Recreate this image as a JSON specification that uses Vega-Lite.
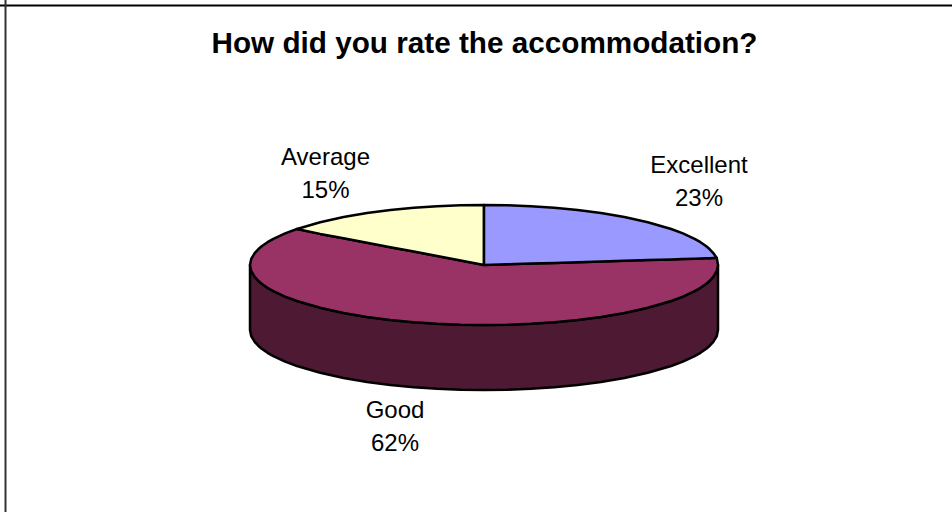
{"$schema":"https://vega.github.io/schema/vega-lite/v6.json","width":952,"height":512,"autosize":"none","padding":0,"background":"white","view":{"stroke":null},
"title":{"text":"How did you rate the accommodation?","anchor":"middle","orient":"top","offset":-84,"dx":8.5,"font":"Liberation Sans","fontWeight":"bold","fontSize":29.7,"color":"#000000","baseline":"alphabetic"},
"datasets":{
"shape":[
{"part":"Side","x":250,"y":265,"y2":330},{"part":"Side","x":251.2,"y":271,"y2":336},{"part":"Side","x":254.7,"y":276.9,"y2":341.9},{"part":"Side","x":258.2,"y":280.7,"y2":345.7},{"part":"Side","x":261.7,"y":283.7,"y2":348.7},{"part":"Side","x":267.5,"y":287.8,"y2":352.8},{"part":"Side","x":273.4,"y":291.2,"y2":356.2},{"part":"Side","x":285.1,"y":296.6,"y2":361.6},{"part":"Side","x":297,"y":301,"y2":366},{"part":"Side","x":320.2,"y":307.8,"y2":372.8},{"part":"Side","x":343.6,"y":313,"y2":378},{"part":"Side","x":367,"y":317,"y2":382},{"part":"Side","x":390.4,"y":320,"y2":385},{"part":"Side","x":413.8,"y":322.2,"y2":387.2},{"part":"Side","x":437.2,"y":323.8,"y2":388.8},{"part":"Side","x":460.6,"y":324.7,"y2":389.7},{"part":"Side","x":484,"y":325,"y2":390},{"part":"Side","x":507.4,"y":324.7,"y2":389.7},{"part":"Side","x":530.8,"y":323.8,"y2":388.8},{"part":"Side","x":554.2,"y":322.2,"y2":387.2},{"part":"Side","x":577.6,"y":320,"y2":385},{"part":"Side","x":601,"y":317,"y2":382},{"part":"Side","x":624.4,"y":313,"y2":378},{"part":"Side","x":647.8,"y":307.8,"y2":372.8},{"part":"Side","x":671.2,"y":301,"y2":366},{"part":"Side","x":682.9,"y":296.6,"y2":361.6},{"part":"Side","x":694.6,"y":291.2,"y2":356.2},{"part":"Side","x":700.5,"y":287.8,"y2":352.8},{"part":"Side","x":706.3,"y":283.7,"y2":348.7},{"part":"Side","x":709.8,"y":280.7,"y2":345.7},{"part":"Side","x":713.3,"y":276.9,"y2":341.9},{"part":"Side","x":716.8,"y":271,"y2":336},{"part":"Side","x":718,"y":265,"y2":330},
{"part":"Good","x":250,"y":265,"y2":265},{"part":"Good","x":251.2,"y":259,"y2":271},{"part":"Good","x":254.7,"y":253.1,"y2":276.9},{"part":"Good","x":258.2,"y":249.3,"y2":280.7},{"part":"Good","x":261.7,"y":246.3,"y2":283.7},{"part":"Good","x":267.5,"y":242.2,"y2":287.8},{"part":"Good","x":273.4,"y":238.8,"y2":291.2},{"part":"Good","x":285.1,"y":233.4,"y2":296.6},{"part":"Good","x":297,"y":229,"y2":301},{"part":"Good","x":320.2,"y":233.9,"y2":307.8},{"part":"Good","x":343.6,"y":238.3,"y2":313},{"part":"Good","x":367,"y":242.8,"y2":317},{"part":"Good","x":390.4,"y":247.2,"y2":320},{"part":"Good","x":413.8,"y":251.6,"y2":322.2},{"part":"Good","x":437.2,"y":256.1,"y2":323.8},{"part":"Good","x":460.6,"y":260.5,"y2":324.7},{"part":"Good","x":484,"y":265,"y2":325},{"part":"Good","x":507.4,"y":264.3,"y2":324.7},{"part":"Good","x":530.8,"y":263.6,"y2":323.8},{"part":"Good","x":554.2,"y":262.9,"y2":322.2},{"part":"Good","x":577.6,"y":262.2,"y2":320},{"part":"Good","x":601,"y":261.5,"y2":317},{"part":"Good","x":624.4,"y":260.8,"y2":313},{"part":"Good","x":647.8,"y":260.1,"y2":307.8},{"part":"Good","x":671.2,"y":259.4,"y2":301},{"part":"Good","x":682.9,"y":259,"y2":296.6},{"part":"Good","x":694.6,"y":258.7,"y2":291.2},{"part":"Good","x":700.5,"y":258.5,"y2":287.8},{"part":"Good","x":706.3,"y":258.3,"y2":283.7},{"part":"Good","x":709.8,"y":258.2,"y2":280.7},{"part":"Good","x":713.3,"y":258.1,"y2":276.9},{"part":"Good","x":716.8,"y":258,"y2":271},{"part":"Good","x":718,"y":265,"y2":265},
{"part":"Average","x":297,"y":229,"y2":229},{"part":"Average","x":320.2,"y":222.2,"y2":233.9},{"part":"Average","x":343.6,"y":217,"y2":238.3},{"part":"Average","x":367,"y":213,"y2":242.8},{"part":"Average","x":390.4,"y":210,"y2":247.2},{"part":"Average","x":413.8,"y":207.8,"y2":251.6},{"part":"Average","x":437.2,"y":206.2,"y2":256.1},{"part":"Average","x":460.6,"y":205.3,"y2":260.5},{"part":"Average","x":484,"y":205,"y2":265},
{"part":"Excellent","x":484,"y":205,"y2":265},{"part":"Excellent","x":507.4,"y":205.3,"y2":264.3},{"part":"Excellent","x":530.8,"y":206.2,"y2":263.6},{"part":"Excellent","x":554.2,"y":207.8,"y2":262.9},{"part":"Excellent","x":577.6,"y":210,"y2":262.2},{"part":"Excellent","x":601,"y":213,"y2":261.5},{"part":"Excellent","x":624.4,"y":217,"y2":260.8},{"part":"Excellent","x":647.8,"y":222.2,"y2":260.1},{"part":"Excellent","x":671.2,"y":229,"y2":259.4},{"part":"Excellent","x":682.9,"y":233.4,"y2":259},{"part":"Excellent","x":694.6,"y":238.8,"y2":258.7},{"part":"Excellent","x":700.5,"y":242.2,"y2":258.5},{"part":"Excellent","x":706.3,"y":246.3,"y2":258.3},{"part":"Excellent","x":709.8,"y":249.3,"y2":258.2},{"part":"Excellent","x":713.3,"y":253.1,"y2":258.1},{"part":"Excellent","x":716.8,"y":258,"y2":258}
],
"labels":[
{"label":"Excellent\n23%","x":699,"y":166},
{"label":"Good\n62%","x":395,"y":411},
{"label":"Average\n15%","x":325.5,"y":158}
],
"frame":[{"fx":5.5,"fy":5.5}]
},
"layer":[
{"data":{"name":"shape"},"mark":{"type":"area","stroke":"#000000","strokeWidth":2.5,"strokeJoin":"round","line":false,"clip":false},
"encoding":{
"x":{"field":"x","type":"quantitative","scale":{"domain":[0,952],"nice":false,"zero":false},"axis":null},
"y":{"field":"y","type":"quantitative","scale":{"domain":[512,0],"nice":false,"zero":false},"axis":null},
"y2":{"field":"y2"},
"color":{"field":"part","type":"nominal","legend":null,"sort":null,"scale":{"domain":["Side","Good","Average","Excellent"],"range":["#4D1933","#993366","#FFFFCC","#9999FF"]}}}},
{"data":{"name":"labels"},"mark":{"type":"text","font":"Liberation Sans","fontSize":24,"align":"center","baseline":"middle","lineBreak":"\n","lineHeight":32.5,"color":"#000000"},
"encoding":{
"x":{"field":"x","type":"quantitative","scale":{"domain":[0,952],"nice":false,"zero":false},"axis":null},
"y":{"field":"y","type":"quantitative","scale":{"domain":[512,0],"nice":false,"zero":false},"axis":null},
"text":{"field":"label"}}},
{"data":{"name":"frame"},"mark":{"type":"rule","color":"#000000","strokeWidth":2},
"encoding":{"y":{"field":"fy","type":"quantitative","scale":{"domain":[512,0],"nice":false,"zero":false},"axis":null}}},
{"data":{"name":"frame"},"mark":{"type":"rule","color":"#333333","strokeWidth":2},
"encoding":{"x":{"field":"fx","type":"quantitative","scale":{"domain":[0,952],"nice":false,"zero":false},"axis":null}}}
]}
